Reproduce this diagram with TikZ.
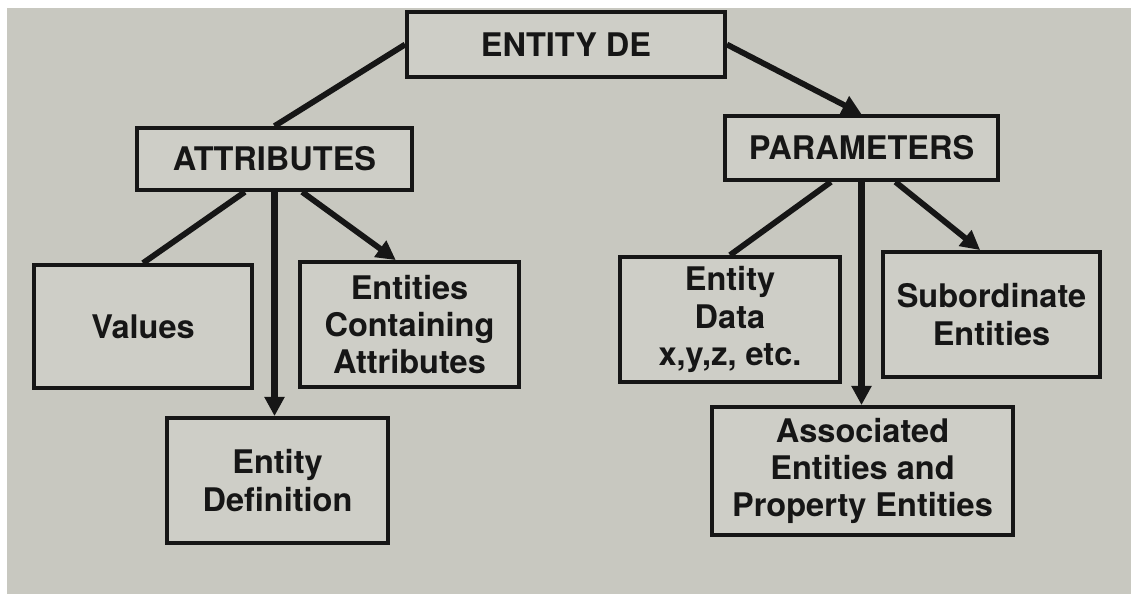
\documentclass[tikz,border=0pt]{standalone}
\usepackage{fontspec}
\setmainfont{TeX Gyre Heros}
\usetikzlibrary{arrows.meta}
\usepackage{xcolor}
\definecolor{paper}{RGB}{200,200,192}
\definecolor{boxfill}{RGB}{206,206,199}
\definecolor{ink}{RGB}{22,22,22}

\begin{document}
\begin{tikzpicture}[x=0.02cm, y=-0.02cm]
        % ================= styles =================
        \tikzset{
            % boxes: heavy black frame, bold sans text
            box/.style={draw=ink, line width=2.2pt, fill=boxfill, align=center, inner sep=0pt, text=ink,
                        font=\bfseries\fontsize{18.5}{21.3}\selectfont},
            % plain connector (no head)
            link/.style={draw=ink, line width=3.3pt},
            % slanted connector with head
            arrow_link/.style={link, -{Triangle[length=11pt, width=11pt]}},
            % straight down connector with head
            down_link/.style={draw=ink, line width=4pt, -{Triangle[length=11pt, width=11pt]}}
        }

        % ================= paper =================
        \fill[white] (0,0) rectangle (1131,594);
        \fill[paper] (7,8) rectangle (1131,594);
        \useasboundingbox (0,0) rectangle (1131,594);

        % ================= top level =================
        \node[box, minimum width=6.36cm, minimum height=1.30cm] (de) at (566,44.5) {ENTITY DE};
        \node[box, minimum width=5.50cm, minimum height=1.24cm] (attr) at (274.5,159) {ATTRIBUTES};
        \node[box, minimum width=5.46cm, minimum height=1.28cm] (param) at (861.5,148) {PARAMETERS};

        % ================= left branch =================
        \node[box, minimum width=4.36cm, minimum height=2.46cm] (values) at (143,326.5) {Values};
        \node[box, minimum width=4.42cm, minimum height=2.50cm] (def) at (277.5,480.5) {Entity\\Definition};
        \node[box, minimum width=4.38cm, minimum height=2.50cm] (contain) at (409.5,324.5) {Entities\\Containing\\Attributes};

        % ================= right branch =================
        \node[box, minimum width=4.40cm, minimum height=2.50cm] (data) at (730,319.5) {Entity\\Data\\x,y,z, etc.};
        \node[box, minimum width=4.34cm, minimum height=2.50cm] (sub) at (991.5,314.5) {Subordinate\\Entities};
        \node[box, minimum width=6.02cm, minimum height=2.56cm] (assoc) at (862.5,471) {Associated\\Entities and\\Property Entities};

        % ================= connectors =================
        \draw[link] (de.west) -- (attr.north);
        \draw[arrow_link] (de.east) -- (param.north);

        \draw[link] (attr.228) -- (values.north);
        \draw[down_link] (attr.south) -- (attr.south |- def.north);
        \draw[arrow_link] (attr.310) -- (contain.102);

        \draw[link] (param.228) -- (data.north);
        \draw[down_link] (param.south) -- (param.south |- assoc.north);
        \draw[arrow_link] (param.315) -- (sub.100);

    \end{tikzpicture}
\end{document}
